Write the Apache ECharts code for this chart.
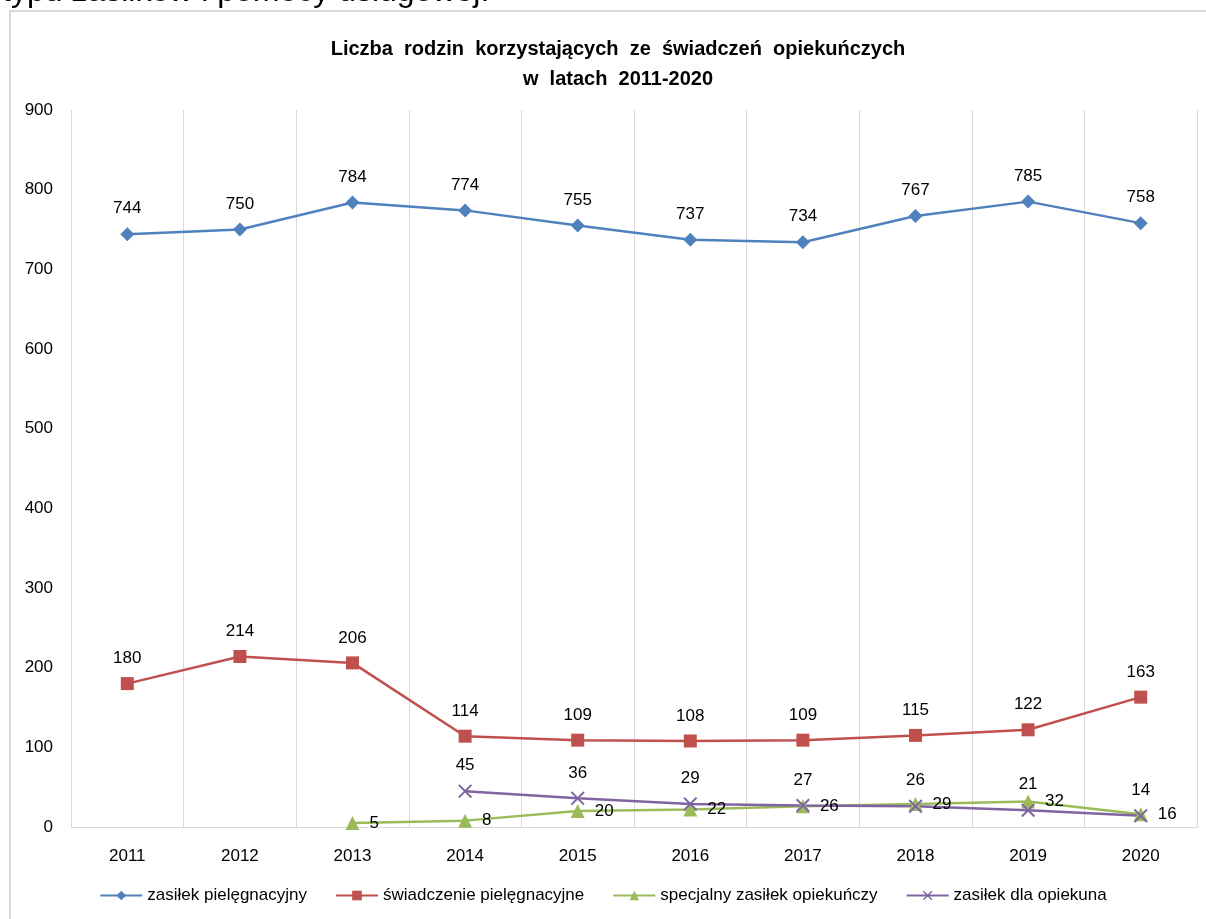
<!DOCTYPE html>
<html>
<head>
<meta charset="utf-8">
<script src="https://cdn.jsdelivr.net/npm/echarts@6/dist/echarts.min.js"></script>
<style>
  html, body { margin: 0; padding: 0; background: #fff; }
  #chart { width: 1206px; height: 919px; }
</style>
</head>
<body>
<div id="chart"></div>
<script>
// lata
const years = ['2011', '2012', '2013', '2014', '2015', '2016', '2017', '2018', '2019', '2020']
// serie
const zasilekPiel = [744, 750, 784, 774, 755, 737, 734, 767, 785, 758]
const swiadczeniePiel = [180, 214, 206, 114, 109, 108, 109, 115, 122, 163]
const specjalnyZasilek = [null, null, 5, 8, 20, 22, 26, 29, 32, 16]
const zasilekOpiekuna = [null, null, null, 45, 36, 29, 27, 26, 21, 14]

const font = '"Liberation Sans", Arial, sans-serif'
const xMark = 'path://M0,1L1,0L5,4L9,0L10,1L6,5L10,9L9,10L5,6L1,10L0,9L4,5Z'

const chart = echarts.init(document.getElementById('chart'))

const option = {
    backgroundColor: '#fff',
    animation: false,
    title: {
        text: 'Liczba  rodzin  korzystających  ze  świadczeń  opiekuńczych\nw  latach  2011-2020',
        left: 613,
        textAlign: 'center',
        top: 29,
        textStyle: {
            fontFamily: font,
            fontSize: 20,
            fontWeight: 'bold',
            color: '#000',
            lineHeight: 30
        }
    },
    graphic: [
        {
            type: 'text',
            left: 2,
            top: -24,
            style: {
                text: 'typu zasiłków i pomocy usługowej.',
                fontFamily: font,
                fontSize: 32,
                fill: '#000'
            }
        },
        {
            type: 'rect',
            shape: { x: 10, y: 11, width: 1210, height: 930 },
            style: { fill: 'none', stroke: '#d9d9d9', lineWidth: 2 },
            silent: true
        }
    ],
    legend: {
        bottom: 10,
        left: 'center',
        itemWidth: 42,
        itemHeight: 12,
        itemGap: 28,
        textStyle: { fontFamily: font, fontSize: 17, color: '#000' },
        data: ['zasiłek pielęgnacyjny', 'świadczenie pielęgnacyjne', 'specjalny zasiłek opiekuńczy', 'zasiłek dla opiekuna']
    },
    grid: { left: 71, right: 9, top: 110, bottom: 92 },
    xAxis: {
        type: 'category',
        data: years,
        boundaryGap: true,
        axisLine: { lineStyle: { color: '#d9d9d9', width: 1 } },
        axisTick: { show: false },
        axisLabel: { fontFamily: font, fontSize: 17, color: '#000', margin: 21 },
        splitLine: { show: true, lineStyle: { color: '#d9d9d9', width: 1 } }
    },
    yAxis: {
        type: 'value',
        min: 0,
        max: 900,
        interval: 100,
        axisLine: { show: false },
        axisTick: { show: false },
        splitLine: { show: false },
        axisLabel: { fontFamily: font, fontSize: 17, color: '#000', margin: 18 }
    },
    series: [
        {
            name: 'zasiłek pielęgnacyjny',
            type: 'line',
            data: zasilekPiel,
            color: '#4f81bd',
            symbol: 'diamond',
            symbolSize: 14,
            lineStyle: { width: 2.5 },
            label: { show: true, position: 'top', distance: 10, fontFamily: font, fontSize: 17, color: '#000' }
        },
        {
            name: 'świadczenie pielęgnacyjne',
            type: 'line',
            data: swiadczeniePiel,
            color: '#c0504d',
            symbol: 'rect',
            symbolSize: 13,
            lineStyle: { width: 2.5 },
            label: { show: true, position: 'top', distance: 10, fontFamily: font, fontSize: 17, color: '#000' }
        },
        {
            name: 'specjalny zasiłek opiekuńczy',
            type: 'line',
            data: specjalnyZasilek,
            color: '#9bbb59',
            symbol: 'triangle',
            symbolSize: 14,
            lineStyle: { width: 2.5 },
            label: { show: true, position: 'right', distance: 10, fontFamily: font, fontSize: 17, color: '#000' }
        },
        {
            name: 'zasiłek dla opiekuna',
            type: 'line',
            data: zasilekOpiekuna,
            color: '#8064a2',
            symbol: xMark,
            symbolSize: 14,
            lineStyle: { width: 2.5 },
            label: { show: true, position: 'top', distance: 10, fontFamily: font, fontSize: 17, color: '#000' }
        }
    ]
}

chart.setOption(option)
</script>
</body>
</html>
